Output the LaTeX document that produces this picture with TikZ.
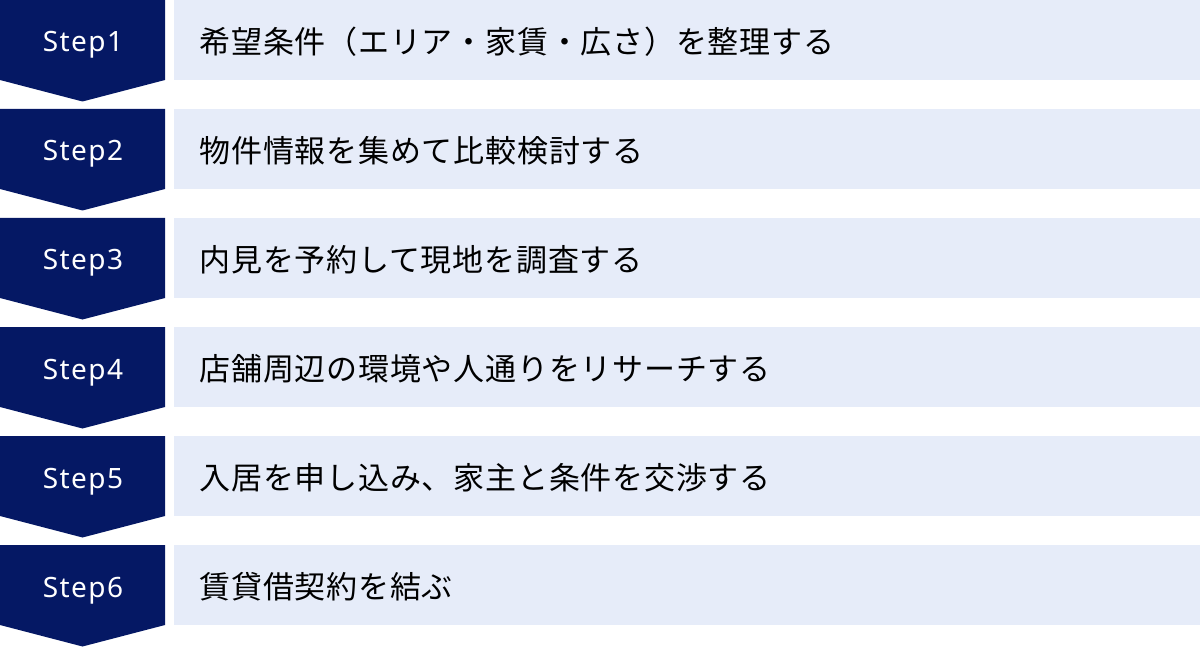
\documentclass[tikz,border=0pt]{standalone}
\usepackage{fontspec}
\setmainfont{Noto Sans}
\newfontfamily\jpfont[LetterSpace=2.5]{Noto Sans CJK JP}
\newfontfamily\stepfont[LetterSpace=5]{Noto Sans}
\definecolor{navy}{HTML}{051864}
\definecolor{pale}{HTML}{E6ECF9}
\begin{document}
\begin{tikzpicture}[x=1pt,y=-1pt,
  chev/.style={fill=navy,draw=none},
  bar/.style={fill=pale,draw=none},
  steplabel/.style={text=white,font=\stepfont\fontsize{28}{32}\selectfont,anchor=base,inner sep=0pt},
  desc/.style={text=black,font=\jpfont\fontsize{31}{36}\selectfont,anchor=west}]
\useasboundingbox (0,0) rectangle (1200,647);
\foreach \i/\t in {1/{希望条件（エリア・家賃・広さ）を整理する},2/{物件情報を集めて比較検討する},3/{内見を予約して現地を調査する},4/{店舗周辺の環境や人通りをリサーチする},5/{入居を申し込み、家主と条件を交渉する},6/{賃貸借契約を結ぶ}}{
  \pgfmathsetmacro{\yy}{(\i-1)*109}
  \fill[chev] (0,\yy) -- (165,\yy) -- (165,\yy+80) -- (82.5,\yy+101.5) -- (0,\yy+80) -- cycle;
  \fill[bar] (174,\yy) rectangle (1200,\yy+80);
  \node[steplabel] (s\i) at (83,\yy+52) {Step\i};
  \node[desc] (d\i) at (196,\yy+42) {\t};
}
\end{tikzpicture}
\end{document}
